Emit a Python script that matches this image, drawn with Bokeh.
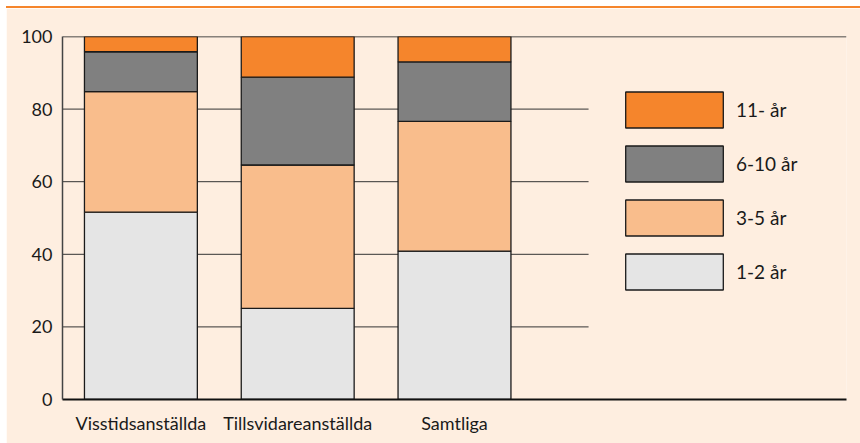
from bokeh.plotting import figure
from bokeh.models import FactorRange, Range1d, Legend, LegendItem, ColumnDataSource, Div
from bokeh.layouts import column
from bokeh.embed import file_html
from bokeh.resources import INLINE

# ---- data ----
categories = ["Visstidsanställda", "Tillsvidareanställda", "Samtliga"]
empty_slots = ["", " "]
series = ["1-2 år", "3-5 år", "6-10 år", "11- år"]
v_1_2 = [51.6, 25.1, 40.9]
v_3_5 = [33.2, 39.5, 35.7]
v_6_10 = [11.0, 24.2, 16.4]
v_11 = [4.2, 11.2, 7.0]
y_ticks = [0, 20, 40, 60, 80, 100]

colors = ["#E5E5E5", "#F9BD8C", "#808080", "#F5852C"]
BG = "#FEEEE0"
FONT = "Lato"

source = ColumnDataSource(dict(cat=categories, s0=v_1_2, s1=v_3_5, s2=v_6_10, s3=v_11))

p = figure(x_range=FactorRange(factors=categories + empty_slots, range_padding=0),
           y_range=Range1d(0, 100),
           width=854, height=435, output_backend="svg", toolbar_location=None,
           min_border_left=56, min_border_right=14, min_border_top=28, min_border_bottom=44,
           margin=(0, 0, 0, 6))
p.background_fill_color = BG
p.border_fill_color = BG
p.outline_line_color = None
p.xgrid.visible = False
p.ygrid.visible = False

# partial gridlines (between bars only) and full line at 100
grid_y = [t for t in y_ticks if 0 < t < 100]
p.segment(x0=[0] * len(grid_y), x1=[3.355] * len(grid_y), y0=grid_y, y1=grid_y,
          line_color="#333333", line_width=1)
p.segment(x0=[0], x1=[5], y0=[y_ticks[-1]], y1=[y_ticks[-1]], line_color="#111111", line_width=1.3)

renderers = p.vbar_stack(["s0", "s1", "s2", "s3"], x="cat", width=0.72, source=source,
                         fill_color=colors, line_color="#1a1a1a", line_width=1.3)

# axes
p.yaxis.ticker = y_ticks
p.yaxis.major_tick_out = 0
p.yaxis.major_tick_in = 0
p.yaxis.minor_tick_out = 0
p.yaxis.minor_tick_in = 0
p.yaxis.axis_line_color = "#444444"
p.yaxis.axis_line_width = 1.5
p.yaxis.major_label_standoff = 10
p.yaxis.major_label_text_font = FONT
p.yaxis.major_label_text_font_size = "18px"
p.yaxis.major_label_text_color = "#1a1a1a"

p.xaxis.major_tick_out = 0
p.xaxis.major_tick_in = 0
p.xaxis.axis_line_color = "#111111"
p.xaxis.axis_line_width = 2
p.xaxis.major_label_standoff = 12
p.xaxis.major_label_text_font = FONT
p.xaxis.major_label_text_font_size = "18px"
p.xaxis.major_label_text_color = "#1a1a1a"

# legend (area glyphs are drawn inset by 10% of the glyph box)
items = [LegendItem(label=series[i], renderers=[renderers[i]]) for i in reversed(range(len(series)))]
legend = Legend(items=items, location=(551, 105), orientation="vertical",
                glyph_width=122, glyph_height=45, spacing=9, padding=0, margin=0,
                border_line_alpha=0, background_fill_alpha=0, label_standoff=1,
                label_text_font=FONT, label_text_font_size="19px", label_text_color="#1a1a1a")
p.add_layout(legend)

# orange rule across the top
bar = Div(text="", width=854, height=2, margin=(6, 0, 0, 6),
          styles={"background-color": "#F5852C"})

layout = column(bar, p, spacing=0)
open("out.html", "w").write(file_html(layout, INLINE))
